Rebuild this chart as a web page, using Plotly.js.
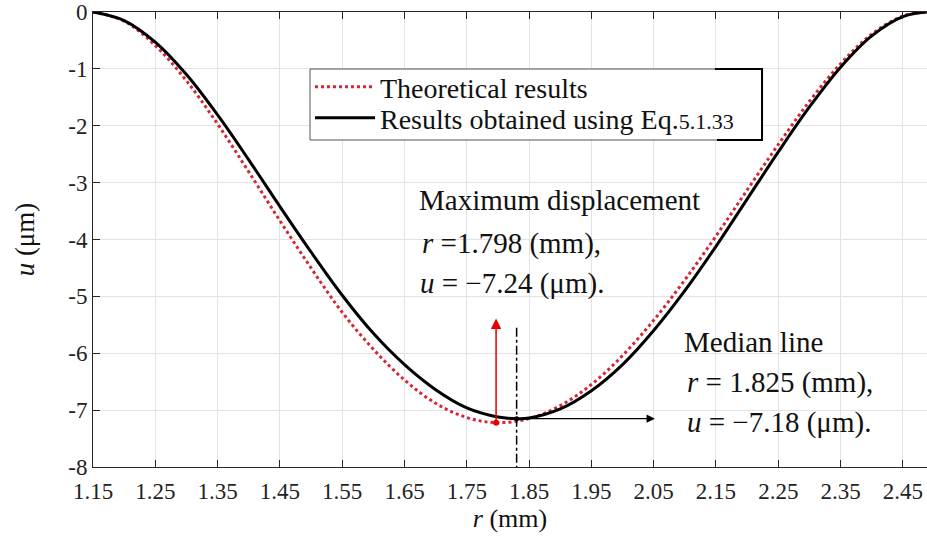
<!DOCTYPE html>
<html>
<head>
<meta charset="utf-8">
<script src="https://cdn.plot.ly/plotly-3.0.1.min.js"></script>
<style>html,body{margin:0;padding:0;background:#fff;}#chart{width:927px;height:547px;}</style>
</head>
<body>
<div id="chart"></div>
<script>
// Theoretical results (red dotted)
const rTheory = [1.15,1.20,1.25,1.30,1.35,1.40,1.45,1.50,1.55,1.60,1.65,1.70,1.75,1.797,1.85,1.90,1.95,2.00,2.05,2.10,2.15,2.20,2.25,2.30,2.35,2.40,2.45,2.488];
const uTheory = [0,-0.16,-0.59,-1.21,-1.97,-2.81,-3.67,-4.50,-5.28,-5.93,-6.47,-6.88,-7.13,-7.22,-7.15,-6.92,-6.55,-6.04,-5.42,-4.71,-3.94,-3.13,-2.33,-1.57,-0.91,-0.39,-0.07,0];
// Results obtained using Eq.5.1.33 (black solid)
const rEq = [1.15,1.20,1.25,1.30,1.35,1.40,1.45,1.50,1.55,1.60,1.65,1.70,1.75,1.80,1.83,1.85,1.90,1.95,2.00,2.05,2.10,2.15,2.20,2.25,2.30,2.35,2.40,2.45,2.488];
const uEq = [0,-0.15,-0.53,-1.10,-1.81,-2.60,-3.42,-4.22,-4.98,-5.65,-6.20,-6.64,-6.96,-7.12,-7.15,-7.14,-6.98,-6.66,-6.20,-5.60,-4.90,-4.12,-3.29,-2.46,-1.67,-0.97,-0.42,-0.08,0];
// Marked points
const maxDispR = [1.797], maxDispU = [-7.22];
const medianR = [1.83], medianU = [-7.15];
// Tick labels
const xTickVals = [1.15,1.25,1.35,1.45,1.55,1.65,1.75,1.85,1.95,2.05,2.15,2.25,2.35,2.45];
const xTickText = ['1.15','1.25','1.35','1.45','1.55','1.65','1.75','1.85','1.95','2.05','2.15','2.25','2.35','2.45'];
const yTickVals = [-8,-7,-6,-5,-4,-3,-2,-1,0];
const yTickText = ['-8','-7','-6','-5','-4','-3','-2','-1','0'];

const FONT = '"Liberation Serif", "Times New Roman", Times, serif';

const traces = [
  {x: rTheory, y: uTheory, type: 'scatter', mode: 'lines', name: 'Theoretical results', legend: 'legend',
   line: {color: 'rgb(214,38,52)', width: 3, dash: 'dot', shape: 'spline', smoothing: 1}},
  {x: rEq, y: uEq, type: 'scatter', mode: 'lines', name: 'Results obtained using Eq.<span style="font-size:22px">5.1.33</span>', legend: 'legend2',
   line: {color: '#000', width: 3, shape: 'spline', smoothing: 1}},
  {x: maxDispR, y: maxDispU, type: 'scatter', mode: 'markers', showlegend: false,
   marker: {color: 'rgb(230,0,0)', size: 6}},
  {x: medianR, y: medianU, type: 'scatter', mode: 'markers', showlegend: false,
   marker: {color: '#000', size: 5}}
];

const axisCommon = {
  showline: true, linecolor: '#262626', linewidth: 1,
  ticks: 'inside', ticklen: 7, tickcolor: '#262626', tickwidth: 1,
  showgrid: true, gridcolor: '#e3e3e3', gridwidth: 1, zeroline: false,
  tickfont: {family: FONT, size: 23, color: '#222'}
};

const legendCommon = {
  xanchor: 'left', yanchor: 'middle', bgcolor: 'rgba(0,0,0,0)', borderwidth: 0,
  font: {family: FONT, size: 28, color: '#111'}, itemwidth: 60
};

const layout = {
  width: 927, height: 547,
  margin: {l: 93, r: 0, t: 12, b: 80},
  paper_bgcolor: '#fff', plot_bgcolor: '#fff',
  font: {family: FONT, color: '#111'},
  showlegend: true,
  xaxis: Object.assign({}, axisCommon, {
    range: [1.15, 2.4887], tickmode: 'array', tickvals: xTickVals, ticktext: xTickText,
    mirror: 'ticks', ticklabelstandoff: 3,
    title: {text: '<i>r</i> (mm)', font: {family: FONT, size: 26, color: '#111'}, standoff: 6}
  }),
  yaxis: Object.assign({}, axisCommon, {
    range: [-8, 0], tickmode: 'array', tickvals: yTickVals, ticktext: yTickText,
    title: {text: '<i>u</i> (μm)', font: {family: FONT, size: 27, color: '#111'}, standoff: 25}
  }),
  legend: Object.assign({}, legendCommon, {x: 0.2602, y: 0.8352}),
  legend2: Object.assign({}, legendCommon, {x: 0.2602, y: 0.7670}),
  shapes: [
    // legend frame
    {type: 'rect', xref: 'paper', yref: 'paper', x0: 0.2602, x1: 0.8022, y0: 0.7187, y1: 0.8747,
     fillcolor: '#fff', line: {color: '#555', width: 1}, layer: 'above'},
    {type: 'path', xref: 'paper', yref: 'paper', path: 'M 0.7458 0.8747 L 0.8022 0.8747 L 0.8022 0.7187 L 0.7482 0.7187',
     line: {color: '#000', width: 2}, layer: 'above'},
    // median line
    {type: 'line', xref: 'x', yref: 'y', x0: 1.83, x1: 1.83, y0: -5.55, y1: -8,
     line: {color: '#000', width: 1.5, dash: 'dashdot'}}
  ],
  annotations: [
    {x: 1.797, y: -5.39, ax: 1.797, ay: -7.22, xref: 'x', yref: 'y', axref: 'x', ayref: 'y',
     text: '', showarrow: true, arrowhead: 2, arrowsize: 1.4, arrowwidth: 1.5, arrowcolor: 'rgb(230,0,0)'},
    {x: 2.052, y: -7.15, ax: 1.83, ay: -7.15, xref: 'x', yref: 'y', axref: 'x', ayref: 'y',
     text: '', showarrow: true, arrowhead: 2, arrowsize: 1.4, arrowwidth: 1.2, arrowcolor: '#000'},
    {x: 1.670, y: -3.31, xref: 'x', yref: 'y', xanchor: 'left', yanchor: 'middle', showarrow: false,
     text: 'Maximum displacement', font: {family: FONT, size: 29, color: '#111'}},
    {x: 1.675, y: -4.07, xref: 'x', yref: 'y', xanchor: 'left', yanchor: 'middle', showarrow: false,
     text: '<i>r</i> =1.798 (mm),', font: {family: FONT, size: 29, color: '#111'}},
    {x: 1.672, y: -4.78, xref: 'x', yref: 'y', xanchor: 'left', yanchor: 'middle', showarrow: false,
     text: '<i>u</i> = −7.24 (μm).', font: {family: FONT, size: 29, color: '#111'}},
    {x: 2.095, y: -5.80, xref: 'x', yref: 'y', xanchor: 'left', yanchor: 'middle', showarrow: false,
     text: 'Median line', font: {family: FONT, size: 29, color: '#111'}},
    {x: 2.100, y: -6.52, xref: 'x', yref: 'y', xanchor: 'left', yanchor: 'middle', showarrow: false,
     text: '<i>r</i> = 1.825 (mm),', font: {family: FONT, size: 29, color: '#111'}},
    {x: 2.100, y: -7.22, xref: 'x', yref: 'y', xanchor: 'left', yanchor: 'middle', showarrow: false,
     text: '<i>u</i> = −7.18 (μm).', font: {family: FONT, size: 29, color: '#111'}}
  ]
};

Plotly.newPlot('chart', traces, layout, {displayModeBar: false, staticPlot: true});
</script>
</body>
</html>
